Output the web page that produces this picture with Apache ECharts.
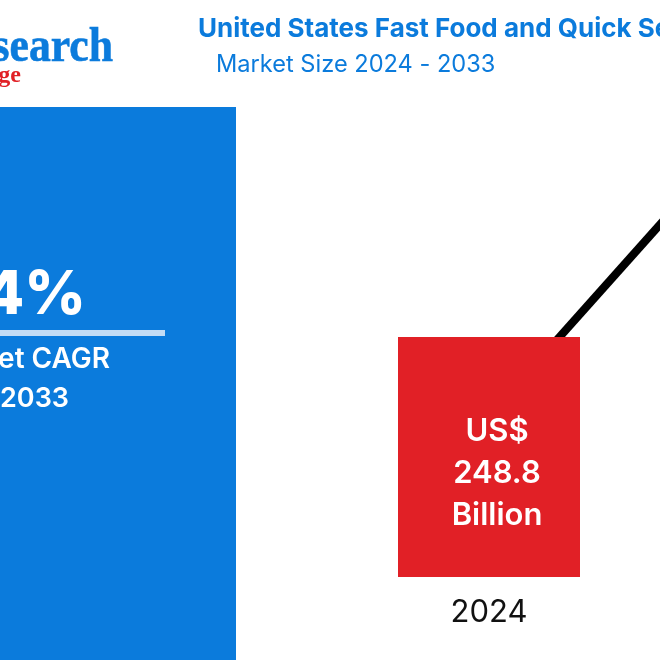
<!DOCTYPE html>
<html>
<head lang="en">
    <meta charset="UTF-8">
    <title>United States Fast Food and Quick Service Market Size</title>
    <script src="https://cdn.jsdelivr.net/npm/echarts@6/dist/echarts.min.js"></script>
    <style>
        html, body { margin: 0; padding: 0; background: #fff; overflow: hidden; width: 660px; height: 660px; }
        /* chart is bigger than the window so the 2033 end gets cropped like the source */
        #main { position: absolute; left: 0; top: -100px; width: 1160px; height: 800px; }
    </style>
</head>
<body>
<div id="main"></div>
<script>
    var years = ['2024', '2033'];
    var barValues = [248.8, null];
    var trendValues = [167, 678];

    var blue = '#0b7bdc';
    var red = '#e12026';
    var sans = 'Inter, "Noto Sans", sans-serif';
    var serif = '"Liberation Serif", serif';

    var myChart = echarts.init(document.getElementById('main'), null, { renderer: 'canvas' });

    var option = {
        animation: false,
        backgroundColor: '#fff',
        grid: { left: 269, width: 880, top: 2, height: 675 },
        xAxis: {
            type: 'category',
            data: years,
            axisLine: { show: false },
            axisTick: { show: false },
            axisLabel: { color: '#111', fontSize: 31, fontFamily: sans, margin: 20 }
        },
        yAxis: { type: 'value', min: 0, max: 700, show: false },
        series: [
            {
                type: 'line',
                data: trendValues,
                z: 1,
                symbol: 'none',
                lineStyle: { color: '#000', width: 8 }
            },
            {
                type: 'bar',
                data: barValues,
                z: 2,
                barWidth: 182,
                itemStyle: { color: red },
                label: {
                    show: true,
                    position: 'inside',
                    offset: [8, 17],
                    color: '#fff',
                    fontFamily: sans,
                    fontWeight: 600,
                    fontSize: 31,
                    lineHeight: 42,
                    formatter: function (p) { return 'US$\n' + p.value + '\nBillion'; }
                }
            }
        ],
        graphic: [{
            type: 'group',
            x: 0,
            y: 100,
            z: 5,
            children: [
                { type: 'rect', shape: { x: 0, y: 107, width: 236, height: 553 }, style: { fill: blue } },
                { type: 'rect', shape: { x: 0, y: 330, width: 165, height: 6 }, style: { fill: '#c3dcf5' } },
                { type: 'text', x: 86, y: 296, style: { text: '4%', fill: '#fff', font: '800 60px ' + sans, align: 'right', verticalAlign: 'middle' } },
                { type: 'text', x: 110, y: 360, style: { text: 'Market CAGR', fill: '#fff', font: '600 28px ' + sans, align: 'right', verticalAlign: 'middle' } },
                { type: 'text', x: 69, y: 399, style: { text: '2033', fill: '#fff', font: '600 27px ' + sans, align: 'right', verticalAlign: 'middle' } },
                { type: 'text', x: 113, y: 49, scaleX: 0.91, style: { text: 'Research', fill: blue, stroke: blue, lineWidth: 0.6, font: '700 48px ' + serif, align: 'right', verticalAlign: 'middle' } },
                { type: 'text', x: 21, y: 76, style: { text: 'dge', fill: red, font: '700 24px ' + serif, align: 'right', verticalAlign: 'middle' } },
                { type: 'text', x: 198, y: 29, style: { text: 'United States Fast Food and Quick Service', fill: blue, font: '700 26px ' + sans, align: 'left', verticalAlign: 'middle' } },
                { type: 'text', x: 216, y: 65, style: { text: 'Market Size 2024 - 2033', fill: blue, font: '400 23.6px ' + sans, align: 'left', verticalAlign: 'middle' } }
            ]
        }]
    };
    myChart.setOption(option, true);
</script>
</body>
</html>
